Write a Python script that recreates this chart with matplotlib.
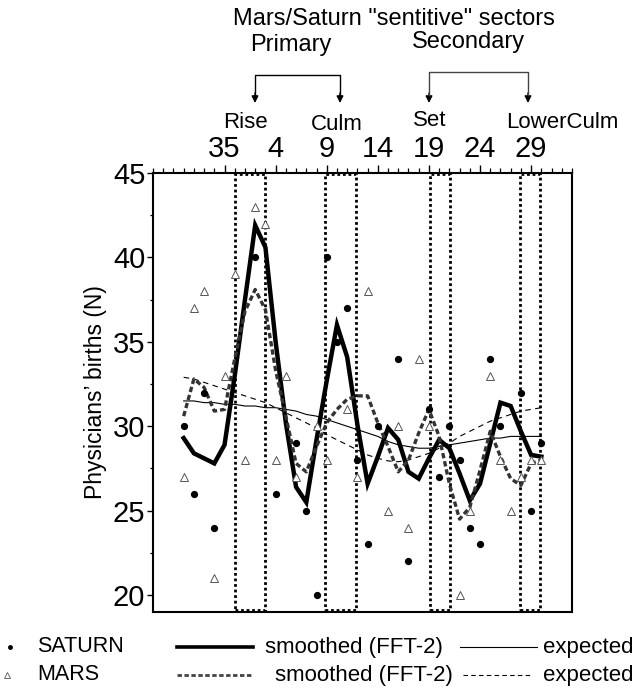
import numpy as np
import matplotlib
matplotlib.use("Agg")
import matplotlib.pyplot as plt
from matplotlib.lines import Line2D
from matplotlib.patches import Rectangle

nan = np.nan
# sectors in plotting order (wraps 36 -> 1)
sectors = [31, 32, 33, 34, 35, 36] + list(range(1, 31))
saturn = [30, 26, 32, 24, nan, nan, nan, 40, nan, 26, nan, 29, 25, 20, 40, 35, 37, 28,
          23, 30, nan, 34, 22, nan, 31, 27, 30, 28, 24, 23, 34, 30, nan, 32, 25, 29]
mars = [27, 37, 38, 21, 33, 39, 28, 43, 42, 28, 33, 27, nan, 30, 28, nan, 31, 27,
        38, nan, 25, 30, 24, 34, 30, nan, nan, 20, 25, nan, 33, 28, 25, 27, 28, 28]
saturn_smooth = [29.3, 28.4, 28.1, 27.8, 28.9, 33.0, 37.5, 41.9, 40.6, 35.0, 30.2, 26.4,
                 25.5, 29.2, 32.7, 36.0, 34.1, 30.1, 26.6, 28.2, 29.9, 29.2, 27.3, 26.9,
                 28.1, 29.2, 28.7, 27.2, 25.6, 26.6, 29.0, 31.4, 31.2, 29.7, 28.3, 28.2]
mars_smooth = [30.6, 32.8, 32.3, 30.9, 31.0, 34.0, 36.8, 38.1, 36.9, 33.3, 30.6, 27.8,
               27.3, 28.8, 30.2, 31.0, 31.6, 31.8, 31.8, 30.2, 28.8, 27.3, 28.0, 29.6,
               31.0, 29.4, 26.6, 24.5, 25.2, 27.4, 29.7, 28.2, 26.9, 26.5, 27.8, 28.0]
saturn_expected = [31.5, 31.5, 31.4, 31.4, 31.3, 31.3, 31.2, 31.2, 31.1, 31.1, 31.0, 30.9,
                   30.7, 30.6, 30.4, 30.2, 30.0, 29.8, 29.6, 29.4, 29.1, 28.9, 28.8, 28.7,
                   28.7, 28.8, 28.9, 29.0, 29.1, 29.2, 29.3, 29.3, 29.4, 29.4, 29.4, 29.4]
mars_expected = [32.9, 32.8, 32.6, 32.4, 32.2, 32.0, 31.8, 31.6, 31.4, 31.1, 30.8, 30.5,
                 30.2, 29.9, 29.5, 29.2, 28.9, 28.6, 28.3, 28.1, 27.95, 27.9, 28.0, 28.2,
                 28.4, 28.7, 29.0, 29.4, 29.7, 30.0, 30.3, 30.5, 30.7, 30.9, 31.0, 31.1]
tick_sectors = [35, 4, 9, 14, 19, 24, 29]
box_ranges = [(36.0, 39.0), (44.8, 47.9), (55.1, 57.1), (63.9, 65.9)]
position_labels = ["Rise", "Culm", "Set", "LowerCulm"]

FONT = ['Liberation Sans', 'DejaVu Sans']
plt.rcParams['font.family'] = FONT

W, H = 643, 691
fig = plt.figure(figsize=(W / 100, H / 100), dpi=100)


def fx(x):
    return x / W


def fy(y):
    return 1 - y / H


def unwrap(s):
    s = np.asarray(s)
    return np.where(s >= 31, s, s + 36)


x = unwrap(sectors)
ax = fig.add_axes([fx(153), fy(612), fx(572) - fx(153), fy(173) - fy(612)])
ax.set_xlim(28, 69)
ax.set_ylim(19, 45)

# boxes
for a, b in box_ranges:
    ax.add_patch(Rectangle((a, 19.12), b - a, 45 - 19.12 - 0.05, fill=False,
                           linestyle=(0, (1, 1)), lw=2.0, edgecolor='black', zorder=2))

ax.plot(x, saturn_expected, color='black', lw=0.8, zorder=3)
ax.plot(x, mars_expected, color='black', lw=0.8, dashes=(5, 4), zorder=3)
ax.plot(x, saturn_smooth, color='black', lw=3.2, zorder=4, solid_joinstyle='miter')
ax.plot(x, mars_smooth, color='#333333', lw=2.4, dashes=(1.6, 0.9), zorder=4)
ax.plot(x, saturn, linestyle='none', marker='o', ms=4.2, color='black', zorder=5)
ax.plot(x, mars, linestyle='none', marker='^', ms=5.8, mfc='white', mec='#555555',
        mew=0.7, zorder=5)

# axes styling
ax.xaxis.tick_top()
ax.set_xticks(unwrap(tick_sectors))
ax.set_xticklabels([str(t) for t in tick_sectors], fontsize=21)
ax.set_xticks(np.arange(28, 70), minor=True)
ax.tick_params(axis='x', which='major', direction='out', length=6, width=1.0, pad=1.5)
ax.tick_params(axis='x', which='minor', direction='out', length=3.5, width=0.9)
ax.set_yticks([20, 25, 30, 35, 40, 45])
ax.set_yticks(np.arange(20, 45, 2.5), minor=True)
ax.tick_params(axis='y', which='major', direction='out', length=4, width=1.0, labelsize=21, pad=1.5)
ax.tick_params(axis='y', which='minor', direction='out', length=2.5, width=0.9)
ax.tick_params(axis='x', which='both', bottom=False)
for sp in ax.spines.values():
    sp.set_linewidth(1.5)
ax.set_ylabel("Physicians’ births (N)", fontsize=16.5)
ax.yaxis.set_label_coords((107 - 153) / 419, (612 - 392) / 439)

# top annotations
fig.text(fx(394), fy(19), 'Mars/Saturn "sentitive" sectors', fontsize=17,
         ha='center', va='center')
fig.text(fx(291), fy(45), 'Primary', fontsize=17, ha='center', va='center')
fig.text(fx(468), fy(42), 'Secondary', fontsize=17, ha='center', va='center')
label_x = [245, 337, 430, 562]
label_y = [122, 124, 121, 122]
for t, lx, ly in zip(position_labels, label_x, label_y):
    fig.text(fx(lx), fy(ly), t, fontsize=16, ha='center', va='center')


def bracket(x1, x2, ytop, ybot, color='black'):
    fig.add_artist(Line2D([fx(x1), fx(x1), fx(x2), fx(x2)],
                          [fy(ybot - 8), fy(ytop), fy(ytop), fy(ybot - 8)],
                          color=color, lw=1.0))
    for xx in (x1, x2):
        ax.annotate('', xy=(fx(xx), fy(ybot)), xytext=(fx(xx), fy(ybot - 10)),
                    xycoords='figure fraction', textcoords='figure fraction',
                    arrowprops=dict(arrowstyle='-|>', color='black', lw=1.0,
                                    mutation_scale=10, shrinkA=0, shrinkB=0))


bracket(255, 340, 75, 103)
bracket(429, 528, 72, 103, color='#444444')

# legend (manual)
r1, r2 = 647, 675
fig.add_artist(Line2D([fx(10)], [fy(r1)], marker='o', ms=2.5, color='black', linestyle='none'))
fig.add_artist(Line2D([fx(7)], [fy(r2)], marker='^', ms=4, mfc='white', mec='#555555',
                      mew=0.6, linestyle='none'))
fig.text(fx(37), fy(r1), 'SATURN', fontsize=15.5, va='center', ha='left')
fig.text(fx(37), fy(r2), 'MARS', fontsize=15.5, va='center', ha='left')
fig.add_artist(Line2D([fx(177), fx(253)], [fy(r1), fy(r1)], color='black', lw=2.6))
fig.add_artist(Line2D([fx(177), fx(253)], [fy(r2), fy(r2)], color='#444444', lw=2.0,
                      dashes=(1.6, 0.9)))
fig.text(fx(265), fy(r1), 'smoothed (FFT-2)', fontsize=16, va='center', ha='left')
fig.text(fx(275), fy(r2), 'smoothed (FFT-2)', fontsize=16, va='center', ha='left')
fig.add_artist(Line2D([fx(460), fx(537)], [fy(r1), fy(r1)], color='black', lw=0.8))
fig.add_artist(Line2D([fx(463), fx(533)], [fy(r2), fy(r2)], color='black', lw=0.8,
                      dashes=(4, 3)))
fig.text(fx(543), fy(r1), 'expected', fontsize=16, va='center', ha='left')
fig.text(fx(543), fy(r2), 'expected', fontsize=16, va='center', ha='left')

fig.savefig('out.png', dpi=100)
